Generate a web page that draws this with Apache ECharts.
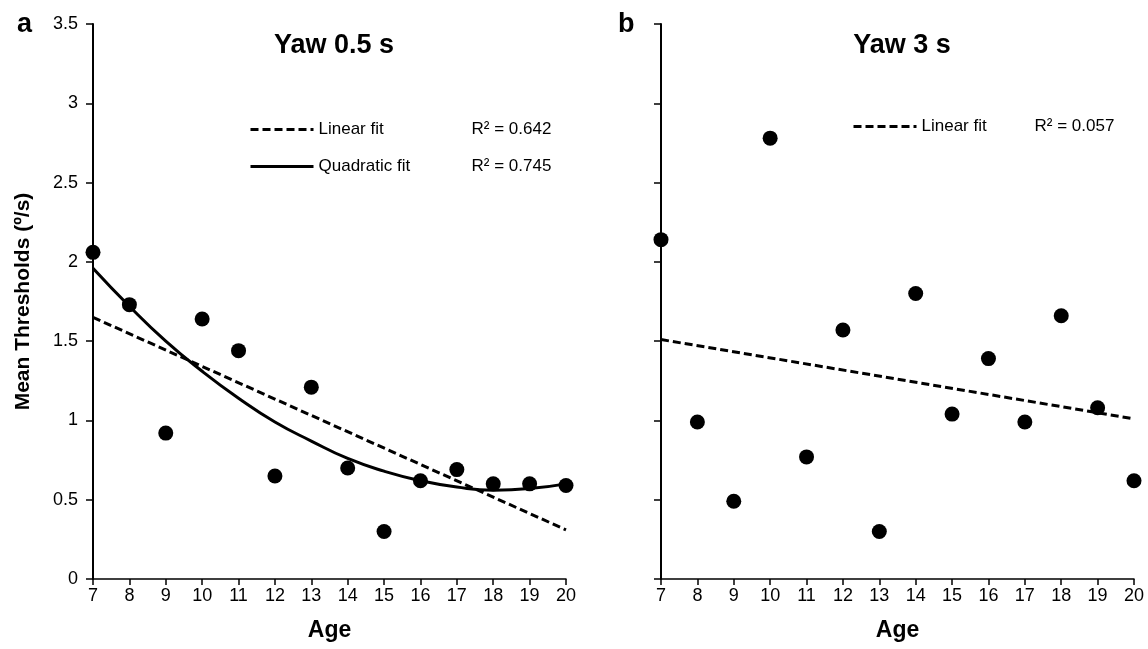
<!DOCTYPE html>
<html>
<head>
<meta charset="utf-8">
<script src="https://cdn.jsdelivr.net/npm/echarts@6/dist/echarts.min.js"></script>
<style>
  html, body { margin: 0; padding: 0; background: #fff; }
  #chart { width: 1148px; height: 649px; }
</style>
</head>
<body>
<div id="chart"></div>
<script>
// ages on the x axis
var ages = [7, 8, 9, 10, 11, 12, 13, 14, 15, 16, 17, 18, 19, 20];

// panel a: yaw 0.5 s thresholds
var yawShort = [2.06, 1.73, 0.92, 1.64, 1.44, 0.65, 1.21, 0.70, 0.30, 0.62, 0.69, 0.60, 0.60, 0.59];
// fitted lines
var yawShortLinear = [[7, 1.65], [20, 0.31]];
var yawShortQuad = [1.96, 1.72, 1.50, 1.31, 1.14, 0.99, 0.87, 0.76, 0.68, 0.62, 0.58, 0.56, 0.57, 0.60];

// panel b: yaw 3 s thresholds
var yawLong = [2.14, 0.99, 0.49, 2.78, 0.77, 1.57, 0.30, 1.80, 1.04, 1.39, 0.99, 1.66, 1.08, 0.62];
var yawLongLinear = [[7, 1.51], [20, 1.01]];

var fitR2 = { a: ['0.642', '0.745'], b: ['0.057'] };

var font = 'Liberation Sans, Arial, sans-serif';

function pairs(xs, ys) {
    return xs.map(function (x, i) { return [x, ys[i]]; });
}

function xAxis(idx) {
    return {
        gridIndex: idx,
        type: 'value',
        min: 7, max: 20, interval: 1,
        name: 'Age',
        nameLocation: 'middle',
        nameGap: 40,
        nameTextStyle: { fontFamily: font, fontSize: 23, fontWeight: 'bold', color: '#000' },
        axisLine: { lineStyle: { color: '#000', width: 1.5 } },
        axisTick: { lineStyle: { color: '#000', width: 1.5 }, length: 6 },
        axisLabel: { fontFamily: font, fontSize: 18, color: '#000', margin: 8 },
        splitLine: { show: false }
    };
}

function yAxis(idx, labels) {
    return {
        gridIndex: idx,
        type: 'value',
        min: 0, max: 3.5, interval: 0.5,
        name: labels ? 'Mean Thresholds (º/s)' : '',
        nameLocation: 'middle',
        nameGap: 59,
        nameTextStyle: { fontFamily: font, fontSize: 21, fontWeight: 'bold', color: '#000' },
        axisLine: { show: true, lineStyle: { color: '#000', width: 2 } },
        axisTick: { show: true, lineStyle: { color: '#000', width: 1.5 }, length: 7 },
        axisLabel: { show: labels, fontFamily: font, fontSize: 18, color: '#000', margin: 15 },
        splitLine: { show: false }
    };
}

var dashed = { color: '#000', width: 3, type: [8, 4] };
var solid = { color: '#000', width: 3, type: 'solid' };

function legendText(width) {
    return {
        fontFamily: font, fontSize: 17, color: '#000',
        rich: {
            n: { fontFamily: font, fontSize: 17, color: '#000', width: width },
            r: { fontFamily: font, fontSize: 17, color: '#000' }
        }
    };
}

var chart = echarts.init(document.getElementById('chart'));
chart.setOption({
    animation: false,
    backgroundColor: '#fff',
    title: [
        { text: 'a', left: 12, top: 6, textStyle: { fontFamily: font, fontSize: 27, fontWeight: 'bold', color: '#000' } },
        { text: 'b', left: 613, top: 6, textStyle: { fontFamily: font, fontSize: 27, fontWeight: 'bold', color: '#000' } },
        { text: 'Yaw 0.5 s', left: 329, top: 27, textAlign: 'center', textStyle: { fontFamily: font, fontSize: 27, fontWeight: 'bold', color: '#000' } },
        { text: 'Yaw 3 s', left: 897, top: 27, textAlign: 'center', textStyle: { fontFamily: font, fontSize: 27, fontWeight: 'bold', color: '#000' } }
    ],
    legend: [
        {
            data: ['Linear fit', 'Quadratic fit'],
            orient: 'vertical',
            left: 249, top: 121, padding: 0,
            itemWidth: 63, itemHeight: 14, itemGap: 20,
            itemStyle: { opacity: 0 },
            lineStyle: { width: 3 },
            selectedMode: false,
            formatter: function (name) {
                var r = name === 'Linear fit' ? fitR2.a[0] : fitR2.a[1];
                return '{n|' + name + '}{r|R² = ' + r + '}';
            },
            textStyle: legendText(153)
        },
        {
            data: ['Linear fit'],
            orient: 'vertical',
            left: 852, top: 118, padding: 0,
            itemWidth: 63, itemHeight: 14,
            itemStyle: { opacity: 0 },
            lineStyle: { width: 3 },
            selectedMode: false,
            formatter: function (name) {
                return '{n|' + name + '}{r|R² = ' + fitR2.b[0] + '}';
            },
            textStyle: legendText(113)
        }
    ],
    grid: [
        { left: 93, top: 24, width: 473, height: 555 },
        { left: 661, top: 24, width: 473, height: 555 }
    ],
    xAxis: [xAxis(0), xAxis(1)],
    yAxis: [yAxis(0, true), yAxis(1, false)],
    series: [
        {
            name: 'Linear fit', type: 'line', xAxisIndex: 0, yAxisIndex: 0,
            data: yawShortLinear, symbol: 'none', lineStyle: dashed, z: 2
        },
        {
            name: 'Quadratic fit', type: 'line', xAxisIndex: 0, yAxisIndex: 0,
            data: pairs(ages, yawShortQuad), symbol: 'none', smooth: true, lineStyle: solid, z: 2
        },
        {
            name: 'Yaw 0.5 s', type: 'scatter', xAxisIndex: 0, yAxisIndex: 0,
            data: pairs(ages, yawShort), symbolSize: 15, itemStyle: { color: '#000', opacity: 1 }, z: 3
        },
        {
            name: 'Linear fit', type: 'line', xAxisIndex: 1, yAxisIndex: 1,
            data: yawLongLinear, symbol: 'none', lineStyle: dashed, z: 2
        },
        {
            name: 'Yaw 3 s', type: 'scatter', xAxisIndex: 1, yAxisIndex: 1,
            data: pairs(ages, yawLong), symbolSize: 15, itemStyle: { color: '#000', opacity: 1 }, z: 3
        }
    ]
});
</script>
</body>
</html>
